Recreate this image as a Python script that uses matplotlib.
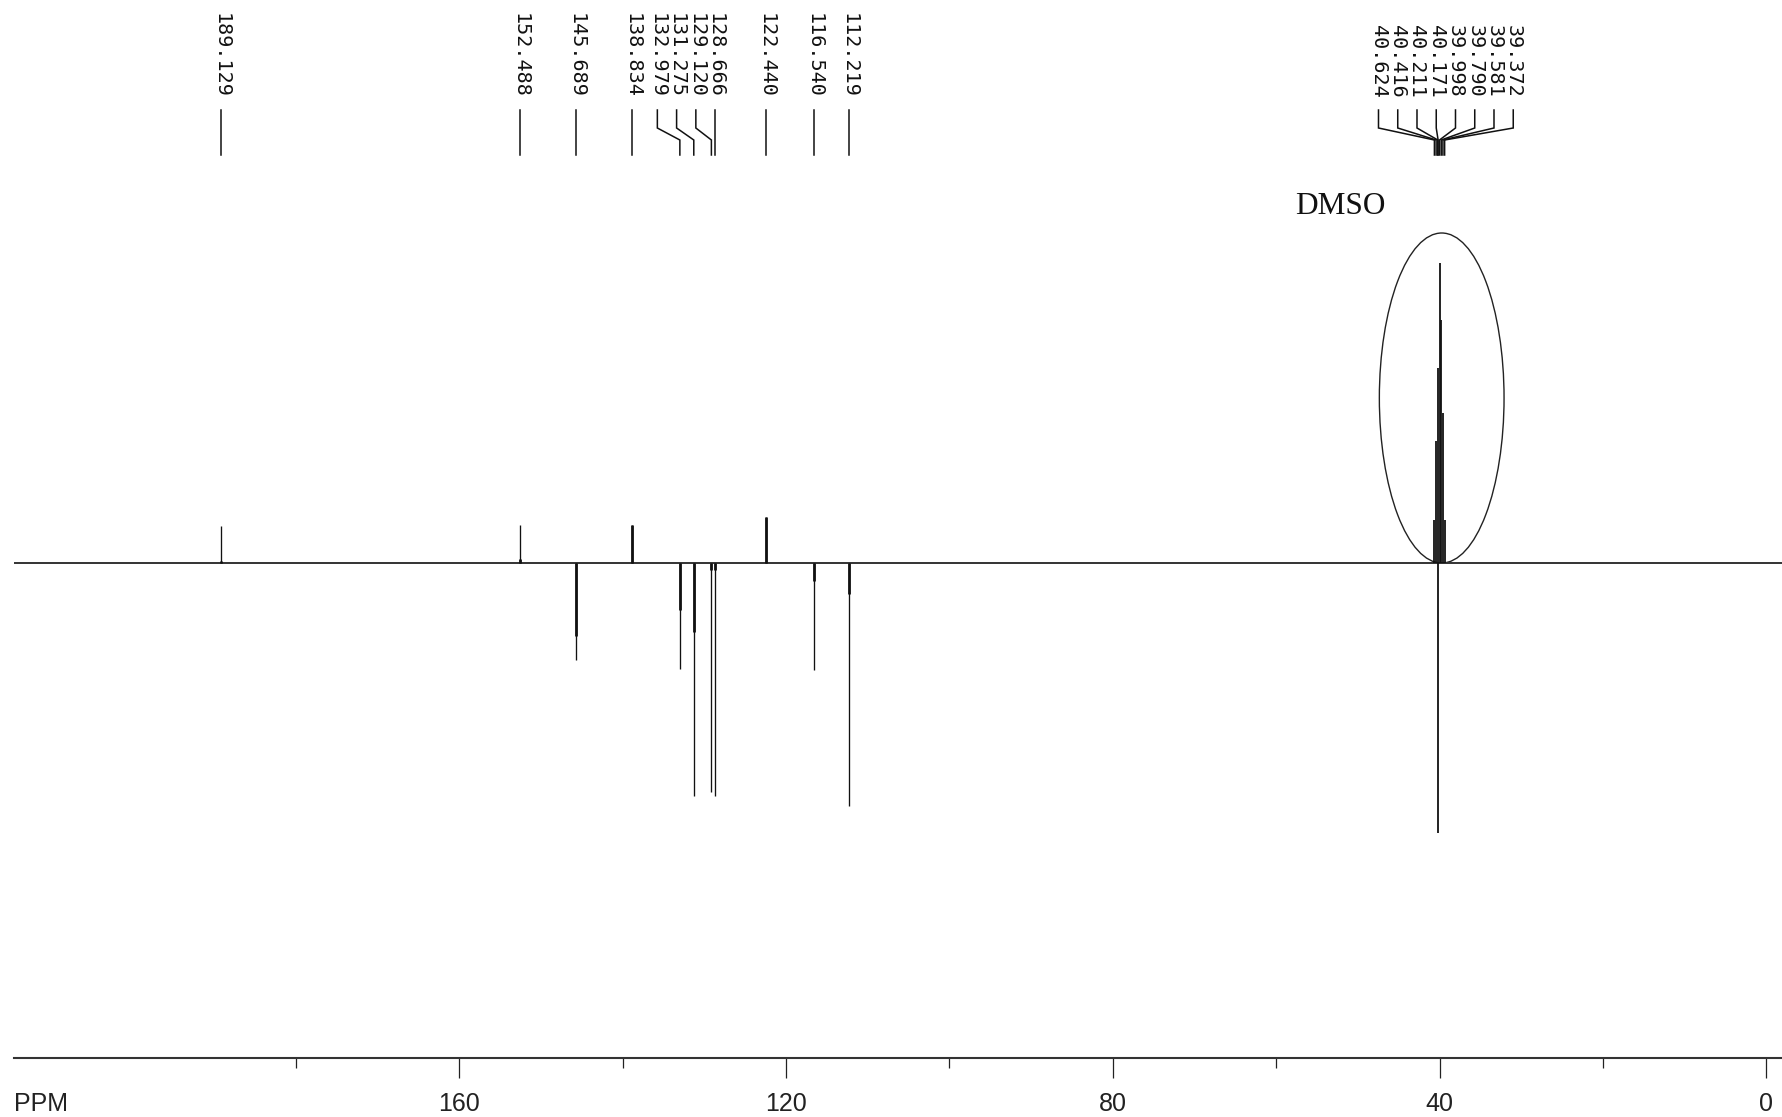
import matplotlib.pyplot as plt
from matplotlib.patches import Ellipse
import numpy as np

# 13C DEPT-135 peak list (ppm, signed intensity, intensity of the broad core of the line)
peak_ppm = [189.129, 152.488, 145.689, 138.834, 132.979, 131.275, 129.120, 128.666, 122.440, 116.540, 112.219]
peak_int = [37, 38, -97, 38, -106, -233, -229, -233, 46, -107, -243]
peak_core = [2, 4, -73, 38, -47, -69, -7, -7, 46, -18, -31]

# solvent multiplet
dmso_ppm = [40.624, 40.416, 40.211, 40.171, 39.998, 39.790, 39.581, 39.372]
dmso_int = [43, 122, 195, -270, 300, 243, 150, 43]

major_ticks = [160, 120, 80, 40, 0]
minor_ticks = [180, 140, 100, 60, 20]

W, H = 1782, 1117
PX_PER_PPM = 8.17
X0 = 1766.3          # pixel of 0 ppm
BASE = 563.3         # pixel row of the baseline (from top)


def ppm_of(px):
    return (X0 - px) / PX_PER_PPM


def yv(px_from_top):
    return BASE - px_from_top


fig = plt.figure(figsize=(W / 100, H / 100), dpi=100)
ax = fig.add_axes([0, 0, 1, 1])
ax.set_xlim(ppm_of(0), ppm_of(W))
ax.set_ylim(yv(H), yv(0))
for s in ["top", "left", "right"]:
    ax.spines[s].set_visible(False)
ax.set_yticks([])

x_left = ppm_of(14)
x_right = ppm_of(W + 5)

# spectrum
ax.hlines(0, x_left, x_right, color="#333333", lw=1.4)
ax.vlines(peak_ppm, 0, peak_int, color="#111111", lw=0.95)
ax.vlines(peak_ppm, 0, peak_core, color="#111111", lw=2.0)
ax.vlines(dmso_ppm, 0, dmso_int, color="#111111", lw=1.3)

# bottom scale
ax.spines["bottom"].set_position(("data", yv(1057.7)))
ax.spines["bottom"].set_bounds(x_left, x_right)
ax.spines["bottom"].set_color("#333333")
ax.spines["bottom"].set_linewidth(1.5)
ax.set_xticks(major_ticks)
ax.set_xticklabels([str(t) for t in major_ticks])
ax.set_xticks(minor_ticks, minor=True)
ax.tick_params(axis="x", which="major", direction="out", length=14.4, width=0.9,
               color="#222222", pad=10.5, labelsize=18, labelcolor="#222222")
ax.tick_params(axis="x", which="minor", direction="out", length=7.2, width=0.9, color="#222222")
for lab in ax.get_xticklabels():
    lab.set_family("Liberation Sans")
ax.annotate("PPM", xy=(x_left, yv(1057.7)), xytext=(0, -(14.4 + 10.5)),
            textcoords="offset points", ha="left", va="top",
            fontsize=18, family="Liberation Sans", color="#222222")

# peak labels
gap = 19.25 / PX_PER_PPM


def spread_left(xs):
    # push labels leftward (higher ppm) starting from the rightmost one
    pos = list(xs)
    for i in range(len(pos) - 2, -1, -1):
        pos[i] = max(pos[i], pos[i + 1] + gap)
    return pos


def centered(xs, shift=0.0):
    c = np.mean(xs) + shift
    n = len(xs)
    return [c + (n - 1 - 2 * i) * gap / 2 for i in range(n)]


def draw_labels(ppms, label_x):
    for p, lx in zip(ppms, label_x):
        ax.plot([lx, lx, p, p], [yv(110), yv(128), yv(140), yv(155)],
                color="#111111", lw=1.1, solid_joinstyle="miter")
        ax.text(lx, yv(98), f"{p:.3f}", rotation=-90, rotation_mode="anchor",
                ha="right", va="center", fontsize=14.5, family="DejaVu Sans Mono",
                color="#111111")


draw_labels(peak_ppm, spread_left(peak_ppm))
draw_labels(dmso_ppm, centered(dmso_ppm, shift=-0.8))

# solvent annotation
ax.add_patch(Ellipse((ppm_of(1441.7), yv(398)), 124.7 / PX_PER_PPM, 330,
                     fill=False, edgecolor="#222222", lw=1.0))
ax.text(ppm_of(1340), yv(206), "DMSO", ha="center", va="center",
        fontsize=22.5, family="Liberation Serif", color="#111111")

fig.savefig("out.png", dpi=100)
